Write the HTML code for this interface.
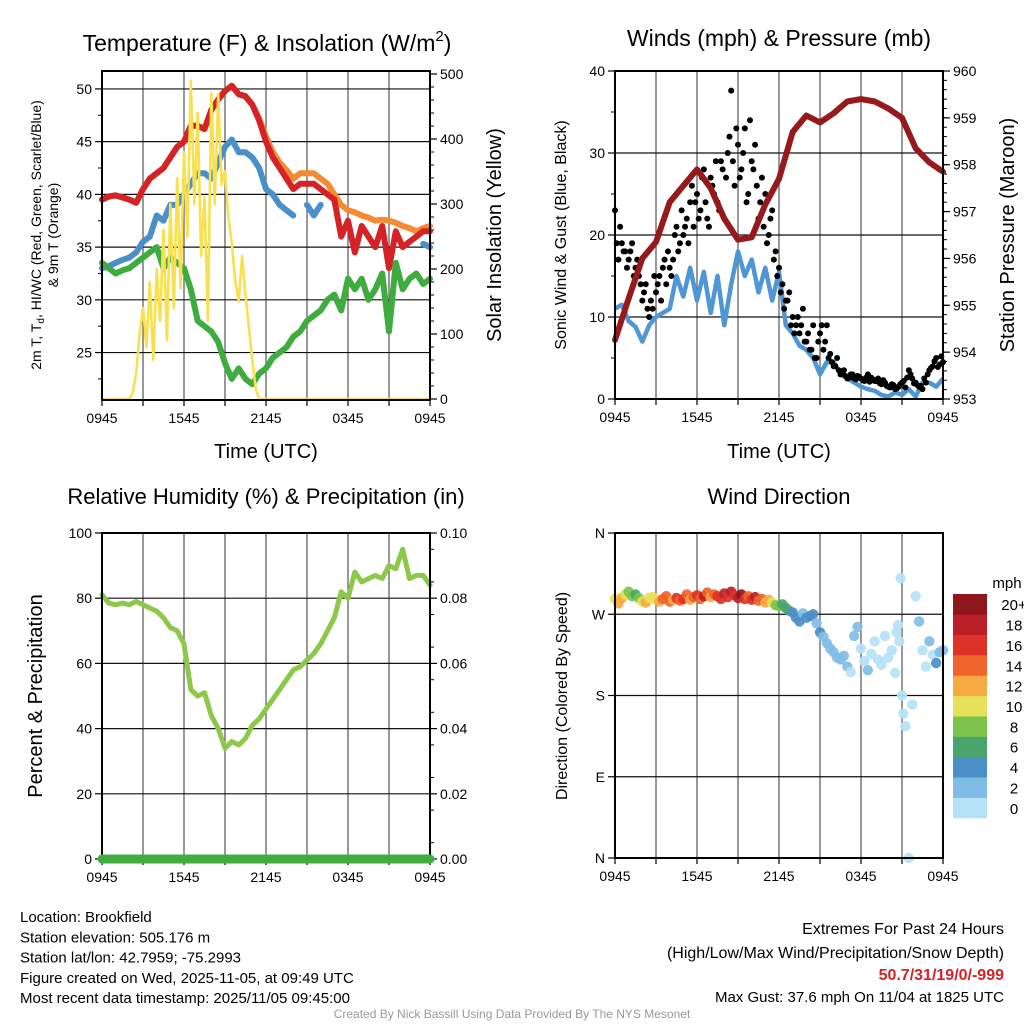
<!DOCTYPE html>
<html><head><meta charset="utf-8"><style>
body{margin:0;background:#fff;width:1024px;height:1024px;overflow:hidden}
svg{display:block;font-family:"Liberation Sans",Arial,sans-serif}
</style></head><body>
<svg id="s" width="1024" height="1024" viewBox="0 0 1024 1024">
<g id="g"></g>
</svg>
<script>
// ---- data (t in hours since 0945 UTC) ----
const xTickLabels=["0945","1545","2145","0345","0945"];
const tTimes=[0,0.5,1,1.5,2,2.5,3,3.5,4,4.5,5,5.5,6,6.5,7,7.5,8,8.5,9,9.5,10,10.5,11,11.5,12,12.5,13,13.5,14,14.5,15,15.5,16,16.5,17,17.5,18,18.5,19,19.5,20,20.5,21,21.5,22,22.5,23,23.5,24];
const temp2m=[39.5,39.8,39.9,39.7,39.5,39.2,40.5,41.5,42,42.5,43.5,44.5,45,46.5,46.5,46.2,48,49,49.8,50.3,49.5,49.3,48.5,47,45,43.5,42.5,41.5,40.5,41,41,41,40.5,40,39.5,36,37.5,34.5,37,36,35,37,33,36.5,35,35.5,36,36.5,36.5];
const temp9m=[39.5,39.8,39.9,39.7,39.5,39.2,40.5,41.5,42,42.5,43.5,44.5,45,46.5,46.5,46.2,48,49,49.8,50.3,49.5,49.3,48.5,47.2,45.5,44,43,42.3,41.5,42,42,42,41.5,41,40,39,38.5,38.3,38,37.8,37.5,37.6,37.5,37.3,37,36.8,36.5,36.8,37];
const heatChill=[33,33.2,33.5,33.8,34,34.5,35.5,36,38,37.5,39,39,40,41,42,42,41.5,43,44.5,45.2,44,44,43.5,42.5,40.5,40,39,38.5,38,null,39,38,39,null,null,null,null,null,null,null,null,null,null,null,null,null,null,35.3,35];
const dewpoint=[33.5,33,32.5,32.8,33,33.5,34,34.5,35,33,34,33.5,33,31,28,27.5,27,26,24,22.5,23.5,22.5,22,23,23.5,24.5,25,25.5,26.5,27,28,28.5,29,30,30.5,29,32,31,32,30,31,32.5,27,33.5,31,32,32.5,31.5,32];
const solarTimes=[0,2,2.25,2.5,2.75,3,3.25,3.5,3.75,4,4.25,4.5,4.75,5,5.25,5.5,5.75,6,6.25,6.5,6.75,7,7.25,7.5,7.75,8,8.25,8.5,8.75,9,9.25,9.5,9.75,10,10.25,10.5,10.75,11,11.25,11.5,24];
const solar=[0,0,10,40,100,140,80,180,60,200,120,260,90,300,140,340,170,380,250,490,300,440,220,310,120,470,300,470,330,350,280,240,180,150,220,160,110,60,15,0,0];
const hourTimes=[0,1,2,3,4,5,6,7,8,9,10,11,12,13,14,15,16,17,18,19,20,21,22,23,24];
const pressure=[954.26,955.15,956.0,956.35,957.2,957.55,957.9,957.5,956.85,956.4,956.45,957.15,957.7,958.7,959.05,958.9,959.1,959.35,959.4,959.35,959.2,959.0,958.35,958.05,957.85];
const windSpeed=[11,11.5,9.5,8.8,7,9,10,10.5,11,15,12.5,16,12,15.5,10.5,15,9,14,18,15,17,13,16,12,15.5,9,8,6.5,6,5,3,4.5,4.5,3,2.5,2,1.5,1.2,1,0.5,0.3,0.8,0.5,1.2,0.3,2,2,1.5,2.5];
const gust=[23,17,19,18,17,19,16,15,12,14,10,11,13,15,16,14,16,17,21,19,20,22,24,21,25,23,28,22,27,25,24,29,22,30,37.6,26,31,28,33,25,29,31,22,27,25,20,23,18,16,14,12,13,10,9,8,11,7,6,9,5,8,6,9,5.5,4,5,3,3.5,2.5,3,2.5,2.8,2.5,2.2,3,2.6,2.2,2.5,1.8,2,1.5,1.8,1.2,1.5,2,1.4,3.5,2.5,2,1.5,1.2,2,3.5,4,5,4.2,4.5];
const gust2=[19,21,18,16,18,15,17,14,13,11,12,15,14,12,17,18,15,20,18,23,21,19,26,24,22,27,24,21,26,29,23,28,27,32,29,33,27,30,24,34,28,26,24,21,19,22,17,15,13,11,12,9,8,10,9,7,8,6,5,7,9,7,5,4.5,4,3.5,3.2,2.8,2.6,3,2.4,2.7,2.3,2.6,2.1,2.4,2.2,1.9,2.3,1.6,1.4,1.7,1.3,1.8,2.2,2.6,3,1.9,1.7,1.6,2.5,3,3.8,4.6,3.9,5.2];
const rh=[81,78.5,78,78.5,78,79,78,77,76,74,71,70,66,52,50,51,44,40,34,36,35,37,41,43,46,49,52,55,58,59,61,63,66,70,74,82,80,88,85,86,87,86,90,89,95,86,87,87,84];
const precip=[0,0];
const precipTimes=[0,24];
const dirTimes=[0,0.25,0.5,0.75,1,1.25,1.5,1.75,2,2.25,2.5,2.75,3,3.25,3.5,3.75,4,4.25,4.5,4.75,5,5.25,5.5,5.75,6,6.25,6.5,6.75,7,7.25,7.5,7.75,8,8.25,8.5,8.75,9,9.25,9.5,9.75,10,10.25,10.5,10.75,11,11.25,11.5,11.75,12,12.25,12.5,12.75,13,13.25,13.5,13.75,14,14.25,14.5,14.75,15,15.25,15.5,15.75,16,16.25,16.5,16.75,17,17.25,17.5,17.75,18,18.25,18.5,18.75,19,19.25,19.5,19.75,20,20.25,20.5,20.6,20.7,20.8,20.9,21,21.1,21.25,21.5,21.75,22,22.25,22.5,22.75,23,23.25,23.5,23.75,24];
const dirDeg=[287,282,288,292,295,290,292,288,284,283,288,289,286,284,287,290,284,286,288,285,287,292,286,289,291,287,290,294,289,292,290,287,293,289,295,291,288,292,287,290,286,289,285,287,283,286,283,280,279,281,277,274,272,266,262,271,266,268,270,260,250,245,238,232,228,222,220,224,212,206,246,256,232,218,208,226,240,220,214,246,222,230,205,250,258,240,310,180,160,146,0,170,290,262,230,212,240,225,216,228,230,232,238];
const dirSpeed=[11,12,13,10,8,9,7,8,11,12,10,10,11,12,14,15,14,13,16,15,17,14,13,15,16,14,18,15,13,14,16,17,19,16,18,17,19,20,17,15,16,18,14,15,13,12,10,9,8,7,7,6,5,4,5,3,4,5,4,3,4,3,3,2,3,2,2,2,2,1,3,2,1,1,3,1,0.5,1,1,0.5,1,1,0.5,1,0.5,1,0.5,0.5,0.5,1,0.5,0.5,1,3,1,0.5,2,1,4,3,3,2,3];
const cbarLabels=["0","2","4","6","8","10","12","14","16","18","20+"];
const cbarColors=["#b5e2f7","#80bde6","#4b8fc7","#49a56d","#7cc34c","#e7e05b","#f7a941","#f0632b","#dc3228","#bb1f27","#8f161b"];

const NS="http://www.w3.org/2000/svg";
const G=document.getElementById('g');
function el(tag,attrs,parent){const e=document.createElementNS(NS,tag);for(const k in attrs)e.setAttribute(k,attrs[k]);(parent||G).appendChild(e);return e;}
function txt(x,y,s,size,anchor,extra,parent){const t=el('text',Object.assign({x:x,y:y,'font-size':size,'text-anchor':anchor||'middle',fill:'#000'},extra||{}),parent);t.textContent=s;return t;}
function lin(d,a,b){return v=>a[0]+(v-d[0])*(a[1]-a[0])/(d[1]-d[0]);}
function pathFrom(ts,vs,xf,yf){let d='',pen=false;for(let i=0;i<ts.length;i++){if(vs[i]==null){pen=false;continue;}d+=(pen?'L':'M')+xf(ts[i]).toFixed(1)+' '+yf(vs[i]).toFixed(1);pen=true;}return d;}

function frame(x0,x1,y0,y1,name){
  const fg=el('g',{},G);
  
  
  for(let h=3;h<24;h+=3){const x=x0+h*(x1-x0)/24;el('line',{x1:x,x2:x,y1:y0,y2:y1,stroke:'#555','stroke-width':1.2},fg);}
  for(let h=0;h<=24;h+=3){const x=x0+h*(x1-x0)/24;el('line',{x1:x,x2:x,y1:y1,y2:y1+6,stroke:'#000','stroke-width':1.2},fg);}
  xTickLabels.forEach((s,i)=>{const x=x0+i*6*(x1-x0)/24;const t=txt(x,y1+23,s,14,'middle',{},fg);});
  return fg;
}
function border(x0,x1,y0,y1,name){const r=el('rect',{x:x0,y:y0,width:x1-x0,height:y1-y0,fill:'none',stroke:'#000','stroke-width':2});}
function hgrid(ys,x0,x1){ys.forEach(y=>el('line',{x1:x0,x2:x1,y1:y,y2:y,stroke:'#111','stroke-width':1.2}));}
function yTicks(vals,yf,x,side,labels,minor,size){
  const g=el('g',{});
  
  
  vals.forEach((v,i)=>{const y=yf(v);el('line',{x1:x,x2:x+(side==='left'?-7:7),y1:y,y2:y,stroke:'#000','stroke-width':1.2},g);
    txt(side==='left'?x-10:x+10,y+5,labels[i],size||14,side==='left'?'end':'start',{},g);});
  (minor||[]).forEach(v=>{const y=yf(v);el('line',{x1:x,x2:x+(side==='left'?-4:4),y1:y,y2:y,stroke:'#000','stroke-width':1},g);});
}
function vtitle(x,y,s,size,name){const t=txt(x,y,s,size,'middle',{transform:'rotate(-90 '+x+' '+y+')'});return t;}

// ===== Panel 1 =====
{
const X0=102,X1=430,Y0=71,Y1=400;
const xf=lin([0,24],[X0,X1]);const yT=lin([20.5,51.7],[Y1,Y0]);const yS=lin([0,500],[399,74]);
frame(X0,X1,Y0,Y1,'temp-panel');
hgrid([25,30,35,40,45,50].map(yT),X0,X1);
yTicks([25,30,35,40,45,50],yT,X0,'left',["25","30","35","40","45","50"],[22.5,27.5,32.5,37.5,42.5,47.5]);
const mn=[];for(let v=20;v<500;v+=20)if(v%100)mn.push(v);
yTicks([0,100,200,300,400,500],yS,X1,'right',["0","100","200","300","400","500"],mn);
const series=[[temp9m,'#f58a32','temp-9m-line'],[temp2m,'#d42227','temp-2m-line'],[heatChill,'#4a8fca','heat-index-wind-chill-line'],[dewpoint,'#3eac3e','dewpoint-line']];
series.forEach(s=>{const p=el('path',{d:pathFrom(tTimes,s[0],xf,yT),fill:'none',stroke:s[1],'stroke-width':6,'stroke-linejoin':'round','stroke-linecap':'round'});});
const sp=el('path',{d:pathFrom(solarTimes,solar,xf,yS),fill:'none',stroke:'#f9e04f','stroke-width':2.6,'stroke-linejoin':'round'});


border(X0,X1,Y0,Y1,'temp-panel');
const t=el('text',{x:267,y:51,'font-size':23,'text-anchor':'middle'});t.innerHTML='Temperature (F) &amp; Insolation (W/m<tspan font-size="15" dy="-10">2</tspan><tspan dy="10">)</tspan>';


const a=el('text',{x:41,y:235,'font-size':14,'text-anchor':'middle',transform:'rotate(-90 41 235)'});a.innerHTML='2m T, T<tspan font-size="10" dy="3">d</tspan><tspan dy="-3">, HI/WC (Red, Green, Scarlet/Blue)</tspan>';


vtitle(58,235,'& 9m T (Orange)',14,'temp-y-axis-title-2');
vtitle(501,235,'Solar Insolation (Yellow)',20,'solar-y-axis-title');
const xt=txt(266,458,'Time (UTC)',20);
}
// ===== Panel 2 =====
{
const X0=615,X1=943,Y0=71,Y1=399;
const xf=lin([0,24],[X0,X1]);const yW=lin([0,40],[Y1,Y0]);const yP=lin([953,960],[Y1,Y0]);
frame(X0,X1,Y0,Y1,'wind-panel');
hgrid([10,20,30].map(yW),X0,X1);
yTicks([0,10,20,30,40],yW,X0,'left',["0","10","20","30","40"],[5,15,25,35]);
const mn=[];for(let v=953.2;v<960;v+=0.2)mn.push(v);
yTicks([953,954,955,956,957,958,959,960],yP,X1,'right',["953","954","955","956","957","958","959","960"],mn);
const wp=el('path',{d:pathFrom(tTimes,windSpeed,xf,yW),fill:'none',stroke:'#4f97d4','stroke-width':4.5,'stroke-linejoin':'round'});


const gg=el('g',{});
gust.forEach((v,i)=>{const c=el('circle',{cx:xf(i*0.25),cy:yW(v),r:3,fill:'#000'},gg);});
gust2.forEach((v,i)=>{const c=el('circle',{cx:xf(0.125+i*0.25),cy:yW(v),r:3,fill:'#000'},gg);});
const pp=el('path',{d:pathFrom(hourTimes,pressure,xf,yP),fill:'none',stroke:'#961a1d','stroke-width':6,'stroke-linejoin':'round','stroke-linecap':'round'});


border(X0,X1,Y0,Y1,'wind-panel');
const t=txt(779,46,'Winds (mph) & Pressure (mb)',23);
vtitle(566,235,'Sonic Wind & Gust (Blue, Black)',16,'wind-y-axis-title');
vtitle(1014,235,'Station Pressure (Maroon)',20,'pressure-y-axis-title');
const xt=txt(779,458,'Time (UTC)',20);
}
// ===== Panel 3 =====
{
const X0=102,X1=430,Y0=533,Y1=859;
const xf=lin([0,24],[X0,X1]);const yR=lin([0,100],[Y1,Y0]);const yPr=lin([0,0.1],[Y1,Y0]);
frame(X0,X1,Y0,Y1,'rh-panel');
hgrid([20,40,60,80].map(yR),X0,X1);
yTicks([0,20,40,60,80,100],yR,X0,'left',["0","20","40","60","80","100"]);
const mn=[];for(let v=0.005;v<0.1;v+=0.01)mn.push(v);
yTicks([0,0.02,0.04,0.06,0.08,0.1],yPr,X1,'right',["0.00","0.02","0.04","0.06","0.08","0.10"],mn);
const rp=el('path',{d:pathFrom(tTimes,rh,xf,yR),fill:'none',stroke:'#8dc84b','stroke-width':5,'stroke-linejoin':'round','stroke-linecap':'round'});


border(X0,X1,Y0,Y1,'rh-panel');
const pr=el('path',{d:pathFrom(precipTimes,precip,xf,yPr),fill:'none',stroke:'#3eac3e','stroke-width':9,'stroke-linecap':'round'});


const t=txt(266,504,'Relative Humidity (%) & Precipitation (in)',22);
vtitle(42,696,'Percent & Precipitation',20,'rh-y-axis-title');
}
// ===== Panel 4 =====
{
const X0=615,X1=943,Y0=533,Y1=858;
const xf=lin([0,24],[X0,X1]);const yD=lin([0,360],[Y1,Y0]);
frame(X0,X1,Y0,Y1,'dir-panel');
hgrid([90,180,270].map(yD),X0,X1);
yTicks([0,90,180,270,360],yD,X0,'left',["N","E","S","W","N"]);
function col(s){const i=Math.min(10,Math.floor(s/2));return cbarColors[i];}
const dg=el('g',{});
dirTimes.forEach((t,i)=>{const c=el('circle',{cx:xf(t),cy:yD(dirDeg[i]),r:5.2,fill:col(dirSpeed[i]),'fill-opacity':0.92},dg);});
border(X0,X1,Y0,Y1,'dir-panel');
const t=txt(779,504,'Wind Direction',22);
vtitle(567,696,'Direction (Colored By Speed)',16,'dir-y-axis-title');
const cb=el('g',{});
const bh=224/cbarColors.length;
cbarColors.forEach((c,i)=>{const y=818-(i+1)*bh;el('rect',{x:953,y:y,width:34,height:bh+0.3,fill:c},cb);const l=txt(1014,y+bh/2+6,cbarLabels[i],15,'middle',{},cb);});
const m=txt(1007,588,'mph',15,'middle',{},cb);
}
// ===== Footer =====
const leftLines=["Location: Brookfield","Station elevation: 505.176 m","Station lat/lon: 42.7959; -75.2993","Figure created on Wed, 2025-11-05, at 09:49 UTC","Most recent data timestamp: 2025/11/05 09:45:00"];
leftLines.forEach((s,i)=>{const t=txt(20,922+i*20.3,s,15,'start');});
const r1=txt(1004,934,'Extremes For Past 24 Hours',16,'end');
const r2=txt(1004,958,'(High/Low/Max Wind/Precipitation/Snow Depth)',16,'end');
const r3=txt(1004,980,'50.7/31/19/0/-999',16,'end',{fill:'#d42227','font-weight':'bold'});
const r4=txt(1004,1002,'Max Gust: 37.6 mph On 11/04 at 1825 UTC',15,'end');
const cr=txt(512,1018,'Created By Nick Bassill Using Data Provided By The NYS Mesonet',12,'middle',{fill:'#999'});
</script>
</body></html>
